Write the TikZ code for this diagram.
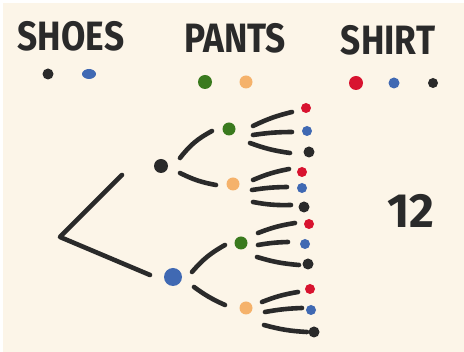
\documentclass[tikz,border=0pt]{standalone}
\usepackage{fontspec}
\usetikzlibrary{shapes.geometric}
\setmainfont{Fira Sans}
\definecolor{bg}{HTML}{FCF5E8}
\definecolor{ink}{HTML}{2A2A2A}
\definecolor{cblue}{HTML}{4069B3}
\definecolor{cgreen}{HTML}{3A7A1E}
\definecolor{corange}{HTML}{F5B26B}
\definecolor{cred}{HTML}{D8132F}
\begin{document}
\begin{tikzpicture}[x=1pt,y=-1pt,
  dot/.style={circle,fill=#1,inner sep=0pt,minimum size=11pt},
  bigdot/.style={circle,fill=#1,inner sep=0pt,minimum size=15pt},
  smalldot/.style={circle,fill=#1,inner sep=0pt,minimum size=10pt},
  stroke/.style={draw=ink,line width=4.6pt,line cap=round,line join=round},
  title/.style={text=ink,font=\fontsize{41}{41}\selectfont\bfseries,inner sep=0pt,xscale=0.86}]
\fill[white] (0,0) rectangle (464,352);
\fill[bg] (3,3) rectangle (464,352);
\useasboundingbox (0,0) rectangle (464,352);
% titles
\node[title] (tshoes) at (71,36) {SHOES};
\node[title] (tpants) at (235,38) {PANTS};
\node[title] (tshirt) at (388,40) {SHIRT};
% legend dots
\node[dot=ink] (l1) at (48,74) {};
\node[ellipse,fill=cblue,inner sep=0pt,minimum width=14pt,minimum height=10pt] (l2) at (89,74) {};
\node[bigdot=cgreen,minimum size=14pt] (l3) at (205,82) {};
\node[dot=corange,minimum size=13pt] (l4) at (246,82) {};
\node[dot=cred,minimum size=14pt] (l5) at (356,83) {};
\node[dot=cblue] (l6) at (394,83) {};
\node[dot=ink,minimum size=10pt] (l7) at (433,83) {};
% tree
\coordinate (root) at (60,237);
\node[bigdot=ink,minimum size=14pt] (s1) at (161,166) {};
\node[bigdot=cblue,minimum size=18pt] (s2) at (173,277) {};
\node[dot=cgreen,minimum size=13pt] (p1) at (229,129) {};
\node[dot=corange,minimum size=13pt] (p2) at (233,184) {};
\node[dot=cgreen,minimum size=13pt] (p3) at (241,243) {};
\node[dot=corange,minimum size=13pt] (p4) at (246,308) {};
% leaves
\node[smalldot=cred] (a1) at (306,108) {};
\node[smalldot=cblue] (a2) at (307,131) {};
\node[smalldot=ink,minimum size=11pt] (a3) at (309,152) {};
\node[smalldot=cred] (b1) at (302,172) {};
\node[smalldot=cblue] (b2) at (302,188) {};
\node[smalldot=ink,minimum size=11pt] (b3) at (304,207) {};
\node[smalldot=cred] (c1) at (309,224) {};
\node[smalldot=cblue] (c2) at (305,244) {};
\node[smalldot=ink,minimum size=11pt] (c3) at (308,264) {};
\node[smalldot=cred] (d1) at (310,289) {};
\node[smalldot=cblue] (d2) at (311,310) {};
\node[smalldot=ink,minimum size=11pt] (d3) at (314,332) {};
% stroke end coordinates
\coordinate (r1) at (122,175);
\coordinate (r2) at (150,275);
\coordinate (e1a) at (180,158); \coordinate (e1b) at (212,131);
\coordinate (e2a) at (180,173); \coordinate (e2b) at (216,185);
\coordinate (e3a) at (192,272); \coordinate (e3b) at (225,245);
\coordinate (e4a) at (194,287); \coordinate (e4b) at (225,305);
% root strokes
\path[stroke] (r1) -- (root) -- (r2);
% shoe to pants strokes
\path[stroke] (e1a) to[bend left=12] (e1b);
\path[stroke] (e2a) to[bend right=8] (e2b);
\path[stroke] (e3a) to[bend left=10] (e3b);
\path[stroke] (e4a) to[bend right=6] (e4b);
% fans
\coordinate (f1a) at (253,126); \coordinate (f1b) at (292,112);
\coordinate (f2a) at (253,135); \coordinate (f2b) at (292,132);
\coordinate (f3a) at (250,143); \coordinate (f3b) at (290,153);
\coordinate (g1a) at (253,180); \coordinate (g1b) at (289,169);
\coordinate (g2a) at (252,190); \coordinate (g2b) at (287,187);
\coordinate (g3a) at (253,202); \coordinate (g3b) at (291,205);
\coordinate (h1a) at (258,233); \coordinate (h1b) at (295,223);
\coordinate (h2a) at (258,245); \coordinate (h2b) at (288,242);
\coordinate (h3a) at (257,257); \coordinate (h3b) at (299,265);
\coordinate (k1a) at (262,302); \coordinate (k1b) at (298,292);
\coordinate (k2a) at (265,312); \coordinate (k2b) at (302,308);
\coordinate (k3a) at (264,325); \coordinate (k3b) at (307,332);
\foreach \n in {f,g,h,k}{
  \path[stroke] (\n1a) to[bend left=6] (\n1b);
  \path[stroke] (\n2a) to[bend left=4] (\n2b);
  \path[stroke] (\n3a) to[bend right=6] (\n3b);
}
% result
\node[text=ink,font=\fontsize{48}{48}\selectfont\bfseries,inner sep=0pt] (res) at (411,211) {12};
\end{tikzpicture}
\end{document}
